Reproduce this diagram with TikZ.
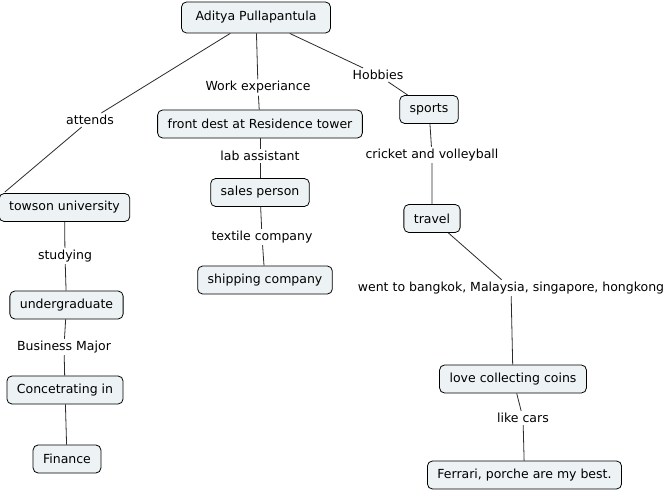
\documentclass[tikz,border=0pt]{standalone}
\usepackage{fontspec}
\setmainfont{DejaVu Sans}
\usepackage{tikz}
\definecolor{conceptfill}{HTML}{EDF3F5}
\definecolor{linkgray}{HTML}{2B2B2B}
\tikzset{
    concept/.style={draw=black, fill=conceptfill, rounded corners=5pt, line width=0.8pt,
        inner xsep=10pt, inner ysep=0pt, minimum height=28pt,
        font=\fontsize{12.5}{14}\selectfont},
    linkphrase/.style={inner sep=2pt, font=\fontsize{12.5}{14}\selectfont},
    link/.style={draw=linkgray, line width=0.8pt}
}

\begin{document}
\begin{tikzpicture}[x=1pt, y=-1pt]
            \useasboundingbox[fill=white] (0, 0) rectangle (672, 492);
            \node[concept, minimum width=149pt, minimum height=31pt] (aditya) at (256, 17.5) {Aditya Pullapantula};
            \node[concept] (front) at (260, 124) {front dest at Residence tower};
            \node[concept] (sales) at (260, 192.5) {sales person};
            \node[concept] (shipping) at (265, 280) {shipping company};
            \node[concept] (towson) at (64.5, 207.5) {towson university};
            \node[concept] (undergrad) at (66.5, 305) {undergraduate};
            \node[concept] (concetrating) at (65, 390) {Concetrating in};
            \node[concept] (finance) at (67, 459) {Finance};
            \node[concept] (sports) at (429, 109.5) {sports};
            \node[concept] (travel) at (432, 218.5) {travel};
            \node[concept] (coins) at (513, 379) {love collecting coins};
            \node[concept] (ferrari) at (524.5, 475) {Ferrari, porche are my best.};

            \node[linkphrase] (attends) at (90, 120) {attends};
            \node[linkphrase] (work) at (258, 87.5) {Work experiance};
            \node[linkphrase] (hobbies) at (378, 75) {Hobbies};
            \node[linkphrase] (lab) at (260, 156) {lab assistant};
            \node[linkphrase] (textile) at (262, 237) {textile company};
            \node[linkphrase] (studying) at (65, 256) {studying};
            \node[linkphrase] (business) at (64, 347) {Business Major};
            \node[linkphrase] (cricket) at (432, 155) {cricket and volleyball};
            \node[linkphrase] (went) at (511, 288) {went to bangkok, Malaysia, singapore, hongkong};
            \node[linkphrase] (cars) at (523, 418) {like cars};

            \coordinate (towsoncorner) at ([xshift=6pt, yshift=1pt]towson.north west);
            \draw[link] (aditya) -- (attends) -- (towsoncorner);
            \draw[link] (aditya) -- (work) -- (front);
            \draw[link] (aditya) -- (hobbies) -- (sports);
            \draw[link] (front) -- (lab) -- (sales);
            \draw[link] (sales) -- (textile) -- (shipping);
            \draw[link] (towson) -- (studying) -- (undergrad);
            \draw[link] (undergrad) -- (business) -- (concetrating);
            \draw[link] (concetrating) -- (finance);
            \draw[link] (sports) -- (cricket) -- (travel);
            \draw[link] (travel) -- (went) -- (coins);
            \draw[link] (coins) -- (cars) -- (ferrari);
        \end{tikzpicture}
\end{document}
